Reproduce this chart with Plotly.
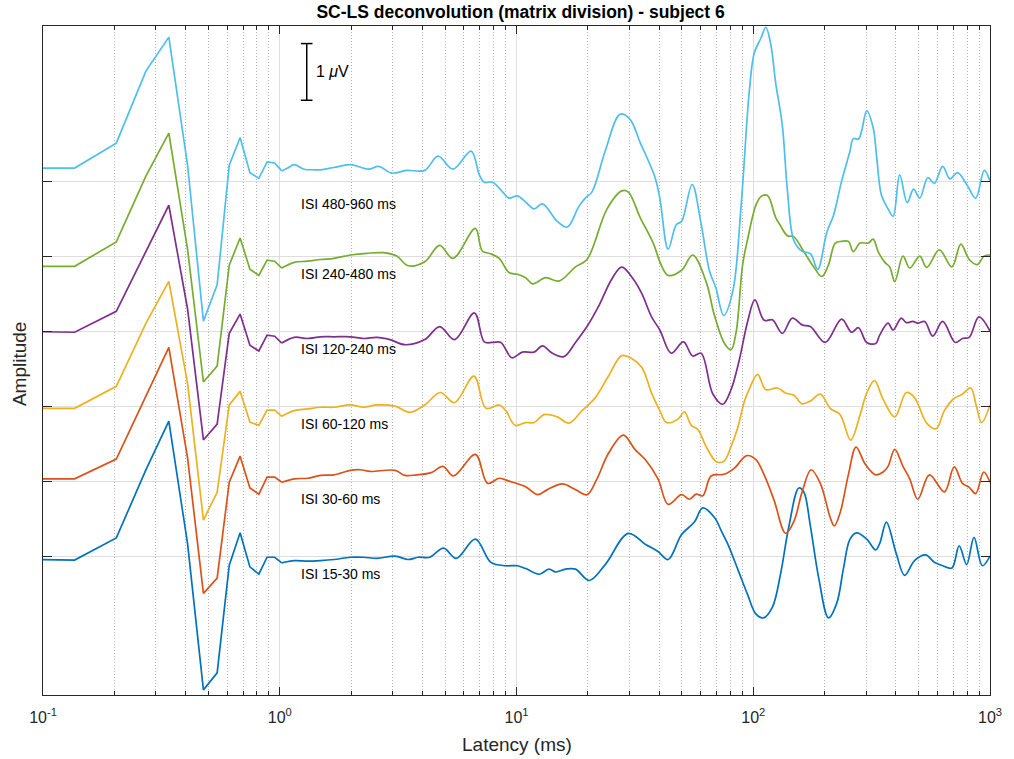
import math
import plotly.graph_objects as go

# ---------------- data ----------------
SERIES_NAMES = ["ISI 15-30 ms", "ISI 30-60 ms", "ISI 60-120 ms",
                "ISI 120-240 ms", "ISI 240-480 ms", "ISI 480-960 ms"]
SERIES_COLORS = ["#0072BD", "#D95319", "#EDB120", "#7E2F8E", "#77AC30", "#4DBEEE"]
OFFSET_STEP = 1.3228  # vertical separation between traces (uV)

# early, sample-by-sample part (piecewise linear), latency in ms
EARLY_LAT = [0.068, 0.136, 0.204, 0.272, 0.340, 0.408, 0.476, 0.544,
             0.612, 0.680, 0.748, 0.816, 0.884, 0.952, 1.020]

blue_early = [-0.05, -0.07, 0.32, 1.52, 2.38, 0.22, -2.36, -2.06, -0.16, 0.41, -0.19, -0.32, -0.02, -0.02, -0.12]
red_early = [0.04, 0.04, 0.39, 1.50, 2.36, 0.41, -1.98, -1.71, -0.02, 0.44, -0.12, -0.23, 0.07, 0.07, -0.02]
orange_early = [-0.04, -0.04, 0.35, 1.46, 2.20, 0.40, -2.01, -1.52, 0.02, 0.26, -0.28, -0.34, -0.07, -0.07, -0.18]
purple_early = [0.0, -0.02, 0.35, 1.39, 2.22, 0.39, -1.92, -1.64, -0.04, 0.30, -0.25, -0.35, -0.07, -0.09, -0.21]
green_early = [-0.18, -0.18, 0.25, 1.41, 2.17, 0.12, -2.22, -1.94, -0.16, 0.32, -0.23, -0.34, -0.07, -0.09, -0.21]
cyan_early = [0.23, 0.23, 0.67, 1.94, 2.54, 0.28, -2.47, -1.83, 0.28, 0.77, 0.15, 0.05, 0.34, 0.32, 0.18]

# later, smooth part
blue_lat = [1.152, 1.310, 1.489, 1.695, 1.99, 2.26, 2.571, 3.07, 3.49, 3.845, 4.30, 4.92, 5.563, 6.70, 7.80,
            9.01, 10.09, 10.93, 12.46, 13.72, 14.64, 16.12, 17.75, 20.3, 23.7, 29.66, 34.97, 39.6, 43.7,
            49.8, 56.4, 61.2, 68.6, 73.2, 78.1, 86.0, 94.7, 102.6, 110.5, 120.5, 130.6, 141.5, 155.8,
            163.5, 174.3, 188.9, 208, 225.3, 240.2, 256.3, 273.5, 301.5, 329, 342.6, 365, 402, 436, 480,
            535, 582, 631, 690, 741, 797, 856, 928, 1000]
blue_amp = [-0.08, -0.09, -0.08, -0.06, -0.02, -0.02, -0.04, 0.0, -0.06, -0.02, -0.02, 0.14, -0.04, 0.30, -0.11,
            -0.17, -0.17, -0.22, -0.32, -0.23, -0.28, -0.23, -0.23, -0.43, -0.15, 0.40, 0.21, 0.08, -0.06,
            0.38, 0.60, 0.85, 0.68, 0.45, 0.21, -0.23, -0.68, -1.02, -1.09, -0.90, -0.30, 0.53, 1.20,
            1.13, 0.53, -0.38, -1.09, -0.83, -0.23, 0.30, 0.41, 0.30, 0.11, 0.23, 0.60, 0.04, -0.34, -0.08,
            0.02, -0.11, -0.17, -0.21, 0.18, -0.15, 0.33, -0.17, 0.0]

red_lat = [1.152, 1.310, 1.489, 1.695, 1.99, 2.19, 2.41, 3.07, 3.38, 3.782, 4.37, 4.89, 5.42, 6.70, 7.55,
           8.45, 9.30, 10.93, 12.27, 13.51, 15.61, 17.75, 19.85, 21.87, 24.47, 28.27, 31.63, 34.97, 39.6,
           43.7, 49.8, 53.8, 57.4, 61.2, 66.35, 75.3, 83.3, 93.8, 102.6, 111.2, 122.5, 137, 148.5, 160.9,
           175.5, 192, 211.3, 219.8, 232.7, 252.2, 271.8, 296.9, 329, 353.7, 371, 396, 429, 458, 495.5,
           555, 642, 706, 765, 817, 870, 940, 1000]
red_amp = [0.04, 0.05, 0.10, 0.11, 0.19, 0.20, 0.17, 0.19, 0.10, 0.11, 0.15, 0.26, 0.09, 0.47, -0.04,
           0.05, 0.0, -0.10, -0.24, -0.15, -0.05, -0.15, -0.24, 0.04, 0.49, 0.81, 0.56, 0.38, 0.04,
           -0.41, -0.24, -0.32, -0.23, -0.26, 0.09, 0.12, 0.23, 0.45, 0.38, 0.11, -0.34, -0.92, -0.71, -0.19,
           0.20, -0.04, -0.64, -0.79, -0.56, 0.11, 0.60, 0.30, 0.11, 0.16, 0.26, 0.56, 0.26, 0.04, -0.32,
           0.11, -0.19, 0.25, -0.04, -0.11, -0.22, 0.16, -0.02]

orange_lat = [1.152, 1.310, 1.489, 1.695, 1.99, 2.26, 2.571, 3.07, 3.546, 4.097, 4.767, 5.47, 6.61, 7.43,
              8.45, 9.01, 9.86, 10.93, 11.87, 13.07, 14.88, 16.64, 18.92, 21.52, 24.47, 27.83, 30.65,
              33.85, 37.2, 40.3, 43.0, 48.1, 51.2, 54.7, 58.3, 63.2, 69.8, 75.3, 80.6, 86.0, 91.7, 96.2,
              104.3, 113, 126.4, 137, 148.5, 160.9, 174.3, 192, 211.3, 232.7, 257.9, 282.8, 301.5, 325,
              353.7, 396, 443, 480, 540, 592, 642, 702, 765, 829, 876, 922, 1000]
orange_amp = [-0.08, -0.05, -0.02, -0.02, 0.02, -0.02, 0.02, 0.0, -0.11, 0.02, 0.24, 0.06, 0.53, -0.04,
              0.02, -0.08, -0.34, -0.29, -0.29, -0.15, -0.19, -0.30, -0.08, 0.15, 0.53, 0.89, 0.84,
              0.68, 0.23, -0.08, -0.29, -0.23, -0.10, -0.34, -0.41, -0.71, -0.98, -0.97, -0.71, -0.38, 0.08, 0.30,
              0.56, 0.29, 0.32, 0.23, 0.19, 0.04, 0.09, 0.21, -0.04, -0.15, -0.60, -0.15, 0.23, 0.45,
              0.12, -0.19, 0.24, 0.15, -0.30, -0.40, -0.08, 0.13, 0.21, 0.32, 0.0, -0.29, 0.02]

purple_lat = [1.152, 1.310, 1.489, 1.695, 1.99, 2.26, 2.571, 2.92, 3.38, 4.097, 4.735, 5.47, 6.64, 7.31,
              7.93, 8.59, 9.55, 10.58, 11.87, 12.87, 14.18, 15.85, 17.75, 19.85, 22.23, 25.27, 27.83,
              31.13, 33.85, 37.2, 40.3, 45.06, 50.7, 55.5, 60.2, 67.5, 74.4, 80.6, 87.4, 94.7, 101.6,
              111.2, 120.5, 132.7, 146.2, 160.9, 174.3, 201.4, 236.2, 260.3, 278.3, 301.5, 329, 342,
              371, 389.6, 422, 443, 472, 495.5, 530, 573, 631, 713, 766, 817, 898, 1000]
purple_amp = [-0.11, -0.13, -0.10, -0.10, -0.10, -0.13, -0.11, -0.15, -0.24, -0.15, 0.08, -0.15, 0.32, -0.19,
              -0.20, -0.20, -0.47, -0.37, -0.37, -0.26, -0.39, -0.45, -0.20, 0.08, 0.44, 0.92, 1.13,
              0.92, 0.66, 0.25, 0.02, -0.39, -0.19, -0.44, -0.39, -1.11, -1.29, -1.03, -0.50, 0.17, 0.55,
              0.19, 0.20, -0.04, 0.23, 0.11, 0.08, -0.20, 0.21, -0.02, 0.06, -0.20, -0.22, -0.07,
              0.14, 0.02, 0.23, 0.15, 0.17, 0.14, 0.17, -0.09, 0.17, -0.20, -0.13, -0.11, 0.25, 0.0]

green_lat = [1.152, 1.310, 1.489, 1.695, 1.99, 2.335, 2.743, 3.119, 3.49, 4.097, 4.735, 5.39, 6.70, 7.17,
             7.80, 8.45, 9.30, 10.09, 10.93, 11.69, 13.29, 15.11, 17.75, 19.85, 24.1, 27.83, 29.66, 33.3,
             37.8, 40.97, 43.7, 49.8, 55.5, 63.2, 68.6, 75.6, 80.6, 84.6, 90.2, 94.7, 102.6, 107.7, 114.8,
             124.4, 130.6, 139.3, 148.5, 163.5, 180.1, 194.9, 208, 222, 236.2, 252.2, 264.5, 282.8, 306.2,
             321, 336.9, 359.5, 377, 396, 429, 458, 505, 540, 611, 690, 753, 817, 884, 943, 1000]
green_amp = [-0.11, -0.09, -0.06, -0.04, 0.02, 0.05, 0.06, 0.0, -0.17, -0.10, 0.19, -0.04, 0.49, 0.09,
             0.04, -0.04, -0.29, -0.32, -0.38, -0.49, -0.38, -0.44, -0.19, -0.06, 0.83, 1.15, 1.13, 0.68,
             0.23, -0.17, -0.34, -0.25, 0.02, -0.45, -1.05, -1.54, -1.65, -1.35, -0.15, 0.30, 0.90, 1.05, 1.07,
             0.68, 0.53, 0.36, 0.34, 0.08, -0.19, -0.36, -0.15, 0.23, 0.26, 0.26, 0.08, 0.23, 0.23,
             0.30, 0.08, -0.11, -0.19, -0.45, 0.0, -0.21, 0.0, -0.20, 0.11, -0.19, 0.21, -0.06, -0.15, 0.0, 0.02]

cyan_lat = [1.080, 1.152, 1.268, 1.398, 1.489, 1.695, 1.99, 2.374, 2.614, 2.972, 3.435, 4.097, 4.663, 5.39,
            6.43, 6.97, 7.31, 7.93, 8.73, 9.30, 10.09, 10.93, 11.87, 12.87, 14.88, 16.39, 18.32, 19.53,
            20.84, 23.7, 27.4, 30.17, 33.3, 38.35, 40.3, 43.7, 47.3, 49.8, 55.2, 60.2, 65.3, 69.5, 75.0,
            81.9, 88.8, 96.2, 101, 107.7, 113, 118.6, 124.4, 132.7, 139.3, 148.5, 160.9, 174.3, 187.1,
            204.6, 218.4, 236.2, 256.3, 264.5, 278.3, 287.5, 301.5, 321, 331.7, 348, 371, 389.6, 415.5,
            447, 475.5, 505, 546, 582, 631, 677, 729, 803, 870, 946, 1000]
cyan_amp = [0.23, 0.29, 0.21, 0.20, 0.20, 0.24, 0.29, 0.21, 0.26, 0.14, 0.19, 0.19, 0.44, 0.21,
            0.53, 0.11, -0.02, -0.02, -0.19, -0.30, -0.26, -0.37, -0.49, -0.40, -0.71, -0.81, -0.45, -0.30,
            -0.19, 0.53, 1.18, 1.09, 0.68, 0.08, -0.30, -1.20, -0.77, -0.71, -0.06, -0.75, -1.58, -1.88, -2.37,
            -1.95, -0.45, 1.58, 2.26, 2.52, 2.71, 2.41, 1.73, 0.98, -0.15, -1.05, -1.24, -1.28, -1.56,
            -0.90, -0.60, 0.0, 0.53, 0.75, 0.74, 0.90, 1.24, 0.94, 0.45, -0.25, -0.49, -0.62, 0.11,
            -0.38, -0.14, -0.30, 0.06, -0.04, 0.26, 0.04, 0.15, -0.08, -0.30, 0.19, 0.0]

EARLY = [blue_early, red_early, orange_early, purple_early, green_early, cyan_early]
LATE_LAT = [blue_lat, red_lat, orange_lat, purple_lat, green_lat, cyan_lat]
LATE_AMP = [blue_amp, red_amp, orange_amp, purple_amp, green_amp, cyan_amp]
LABEL_DY = [-0.31, -0.31, -0.31, -0.31, -0.31, -0.41]

X_TICKS = [0.1, 1, 10, 100, 1000]
X_TICKTEXT = ["10<sup>-1</sup>", "10<sup>0</sup>", "10<sup>1</sup>", "10<sup>2</sup>", "10<sup>3</sup>"]
MINOR_TICKS = [m * 10 ** e for e in range(-1, 3) for m in range(2, 10)]

SCALE_LAT = 1.30           # latency of the scale bar
SCALE_CAPS = (1.228, 1.375)
SCALE_TOP = 9.04           # uV (in offset space)
SCALE_HEIGHT = 1.0         # 1 uV
LABEL_LAT = 1.21

FONT = "Liberation Sans, Arial, Helvetica, sans-serif"
AX = "#262626"

fig = go.Figure()
offsets = [i * OFFSET_STEP for i in range(len(SERIES_NAMES))]
for i, name in enumerate(SERIES_NAMES):
    off = offsets[i]
    fig.add_trace(go.Scatter(x=EARLY_LAT, y=[v + off for v in EARLY[i]], mode="lines",
                             line=dict(color=SERIES_COLORS[i], width=1.7, shape="linear"),
                             showlegend=False, hoverinfo="skip"))
    xs = [EARLY_LAT[-1]] + LATE_LAT[i]
    ys = [EARLY[i][-1] + off] + [v + off for v in LATE_AMP[i]]
    fig.add_trace(go.Scatter(x=xs, y=ys, mode="lines", name=name,
                             line=dict(color=SERIES_COLORS[i], width=1.7, shape="spline", smoothing=1.0),
                             showlegend=False, hoverinfo="skip"))
    fig.add_annotation(x=math.log10(LABEL_LAT), y=off + LABEL_DY[i], xref="x", yref="y",
                       text=name, showarrow=False, xanchor="left", yanchor="middle",
                       font=dict(family=FONT, size=14, color="#000000"))

# scale bar
sb_bot = SCALE_TOP - SCALE_HEIGHT
fig.add_trace(go.Scatter(
    x=[SCALE_CAPS[0], SCALE_CAPS[1], None, SCALE_LAT, SCALE_LAT, None, SCALE_CAPS[0], SCALE_CAPS[1]],
    y=[SCALE_TOP, SCALE_TOP, None, SCALE_TOP, sb_bot, None, sb_bot, sb_bot],
    mode="lines", line=dict(color="#000000", width=1.5), showlegend=False, hoverinfo="skip"))
fig.add_annotation(x=math.log10(1.397), y=SCALE_TOP - SCALE_HEIGHT / 2, xref="x", yref="y",
                   text="1 <i>\u03bc</i>V", showarrow=False, xanchor="left", yanchor="middle",
                   font=dict(family=FONT, size=16, color="#000000"))

# axis titles
fig.add_annotation(x=0.5, y=-0.0747, xref="paper", yref="paper", text="Latency (ms)",
                   showarrow=False, xanchor="center", yanchor="middle",
                   font=dict(family=FONT, size=19, color=AX))
fig.add_annotation(x=-0.024, y=0.495, xref="paper", yref="paper", text="Amplitude",
                   textangle=-90, showarrow=False, xanchor="center", yanchor="middle",
                   font=dict(family=FONT, size=19, color=AX))

fig.update_layout(
    width=1014, height=759,
    margin=dict(l=43, r=16, t=26, b=64),
    paper_bgcolor="white", plot_bgcolor="white",
    font=dict(family=FONT, color=AX),
    title=dict(text="<b>SC-LS deconvolution (matrix division) - subject 6</b>",
               x=0.5134, xref="container", xanchor="center",
               y=1 - 12 / 759, yref="container", yanchor="middle",
               font=dict(family=FONT, size=17.5, color="#000000")),
    showlegend=False,
)
fig.update_xaxes(type="log", range=[-1, 3], showline=True, linecolor=AX, linewidth=1,
                 mirror="ticks", ticks="inside", ticklen=8, tickcolor=AX, tickwidth=1,
                 tickmode="array", tickvals=X_TICKS, ticktext=X_TICKTEXT,
                 tickfont=dict(family=FONT, size=16, color=AX), ticklabelstandoff=8,
                 showgrid=True, gridcolor="#dedede", gridwidth=1, zeroline=False,
                 minor=dict(tickmode="array", tickvals=MINOR_TICKS, ticks="inside", ticklen=4,
                            tickcolor=AX, showgrid=True, gridcolor="#b4b4b4", griddash="1px,2px",
                            gridwidth=1))
fig.update_yaxes(range=[-2.45, 9.35], showline=True, linecolor=AX, linewidth=1,
                 mirror="ticks", ticks="inside", ticklen=9, tickcolor=AX,
                 tickmode="array", tickvals=offsets, showticklabels=False,
                 showgrid=True, gridcolor="#dedede", gridwidth=1, zeroline=False)

fig.write_html("out.html")
